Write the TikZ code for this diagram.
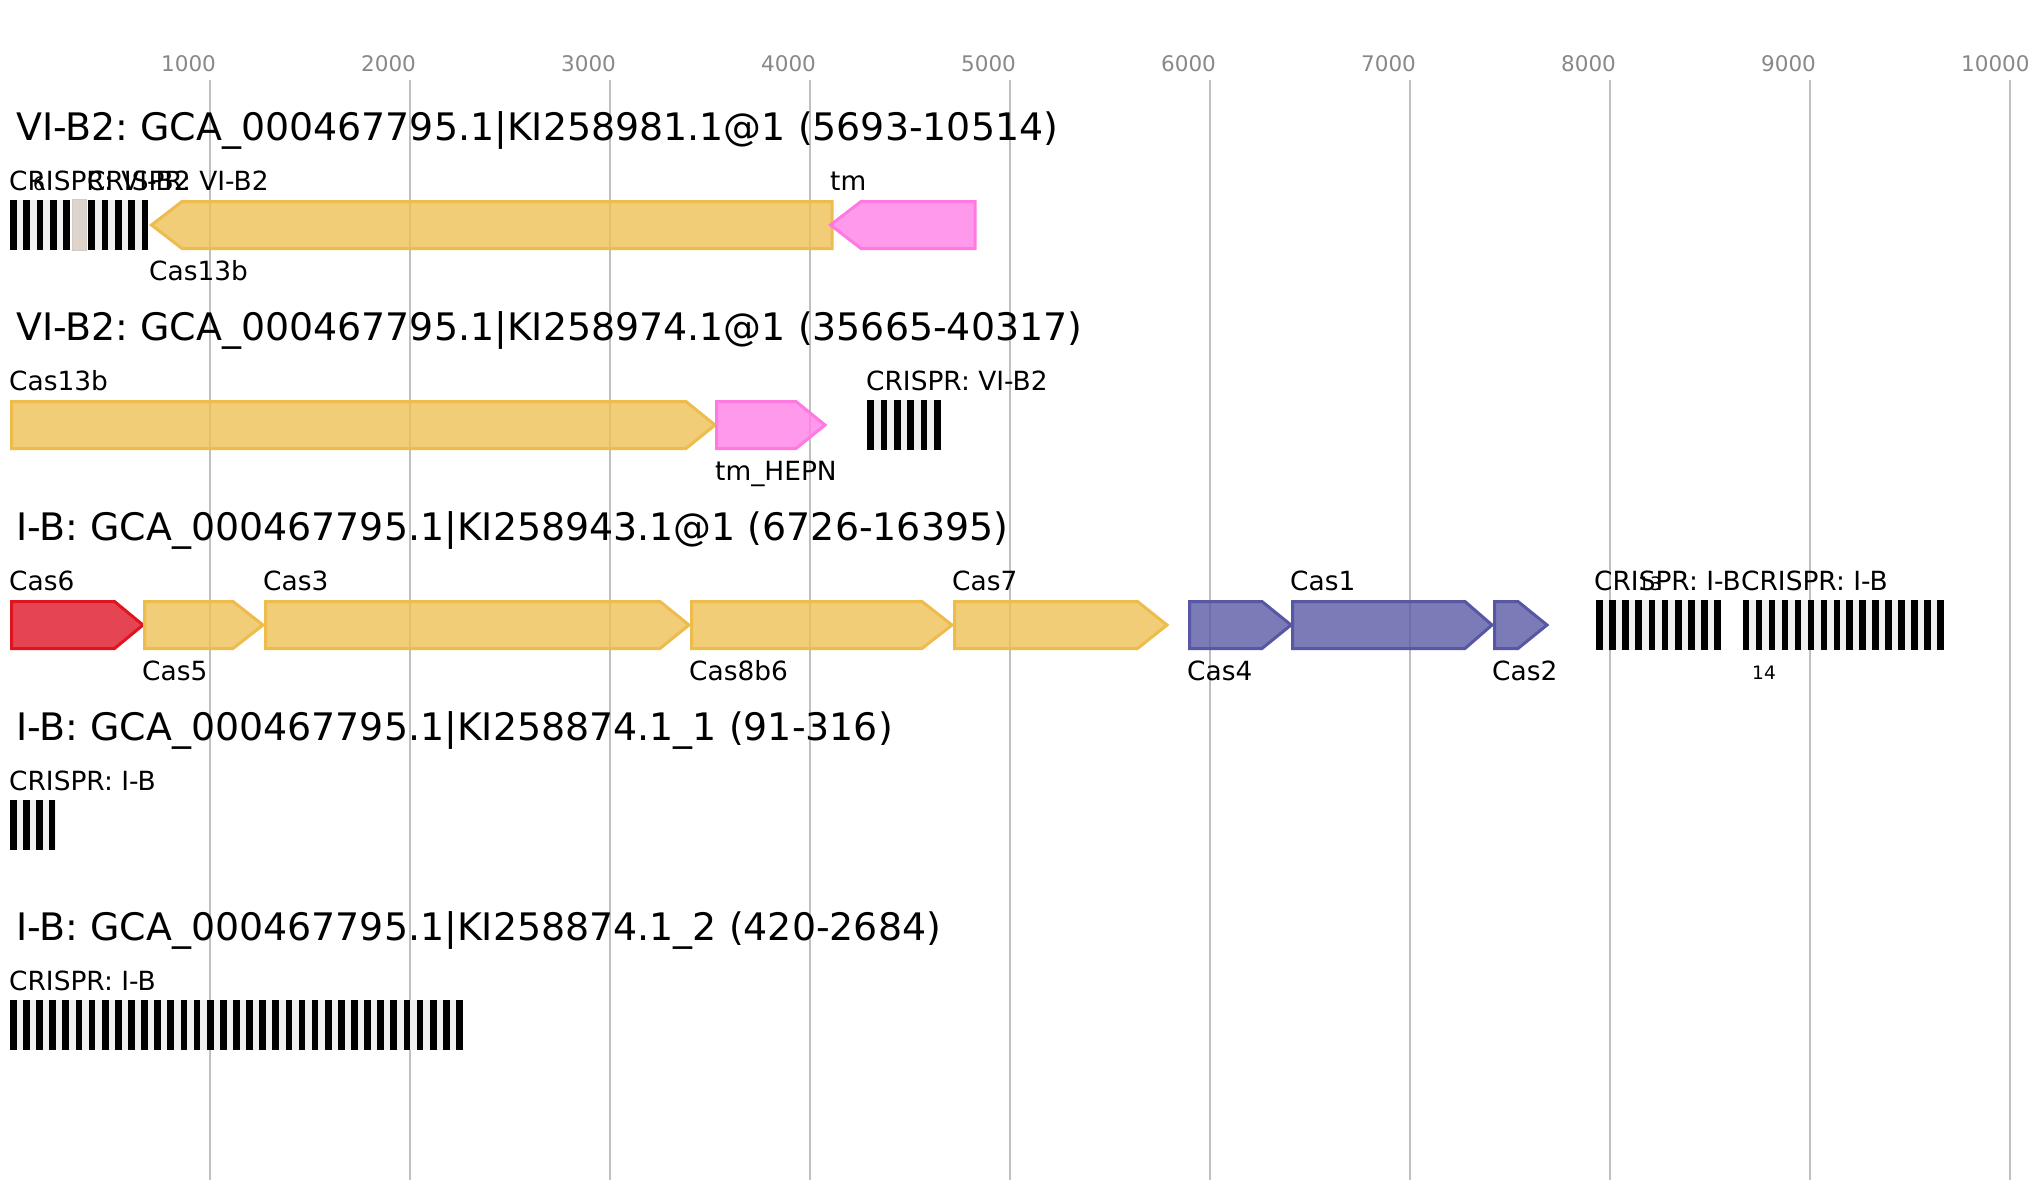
\documentclass[tikz,border=0pt]{standalone}
\usepackage{fontspec}
\setmainfont{DejaVu Sans}
\usepackage{tikz}
\frenchspacing

\definecolor{gridgray}{HTML}{C0C0C0}
\definecolor{tickgray}{HTML}{888888}
\definecolor{arraybggray}{HTML}{F0F0F0}
\definecolor{yellowline}{HTML}{EDBC4C}
\definecolor{yellowfill}{HTML}{EEC055}
\definecolor{pinkline}{HTML}{FF7AE0}
\definecolor{pinkfill}{HTML}{FF80E7}
\definecolor{redline}{HTML}{E0141E}
\definecolor{redfill}{HTML}{DF1727}
\definecolor{blueline}{HTML}{5757A5}
\definecolor{bluefill}{HTML}{5A5AA6}
\definecolor{tanline}{HTML}{D3CBC3}
\definecolor{tanfill}{HTML}{DCD4CD}

\begin{document}
\begin{tikzpicture}[x=1bp,y=-1bp,
  gridline/.style={gridgray,line width=2bp},
  ticklabel/.style={anchor=base west,inner sep=0pt,text=tickgray,font=\fontsize{21.5bp}{24bp}\selectfont},
  rowtitle/.style={anchor=base west,inner sep=0pt,font=\fontsize{37.9bp}{40bp}\selectfont},
  genelabel/.style={anchor=base west,inner sep=0pt,font=\fontsize{26.4bp}{28bp}\selectfont},
  countlabel/.style={anchor=base,inner sep=0pt,font=\fontsize{18.5bp}{20bp}\selectfont},
  gene/.style={line width=3bp,line join=miter,fill opacity=0.8},
  yellowgene/.style={gene,draw=yellowline,fill=yellowfill},
  pinkgene/.style={gene,draw=pinkline,fill=pinkfill},
  redgene/.style={gene,draw=redline,fill=redfill},
  bluegene/.style={gene,draw=blueline,fill=bluefill},
  arraybg/.style={fill=arraybggray},
  repeatbar/.style={fill=black},
  tanbox/.style={draw=tanline,fill=tanfill,line width=1.5bp}]

\useasboundingbox (0,0) rectangle (2034,1200);

\foreach \k in {1,...,10} {
  \draw[gridline] (10+200*\k,80) -- (10+200*\k,1180);
  \node[ticklabel] (tick\k) at (10+200*\k-49,71) {\k000};
}

\node[rowtitle] (title1) at (16,140) {VI-B2: GCA\_000467795.1|KI258981.1@1 (5693-10514)};
\node[rowtitle] (title2) at (16,340) {VI-B2: GCA\_000467795.1|KI258974.1@1 (35665-40317)};
\node[rowtitle] (title3) at (16,540) {I-B: GCA\_000467795.1|KI258943.1@1 (6726-16395)};
\node[rowtitle] (title4) at (16,740) {I-B: GCA\_000467795.1|KI258874.1\_1 (91-316)};
\node[rowtitle] (title5) at (16,940) {I-B: GCA\_000467795.1|KI258874.1\_2 (420-2684)};

\fill[arraybg] (10,200) rectangle (70,250);
\foreach \i in {0,...,4} \fill[repeatbar] (10+\i*13.33,200) rectangle +(6.7,50);
\filldraw[tanbox] (72.5,199.5) rectangle (86.5,250.5);
\fill[arraybg] (88.3,200) rectangle (148.3,250);
\foreach \i in {0,...,4} \fill[repeatbar] (88.3+\i*13.33,200) rectangle +(6.7,50);
\draw[yellowgene] (832,201.5) -- (182,201.5) -- (151.5,225) -- (182,248.5) -- (832,248.5) -- cycle;
\draw[pinkgene] (975,201.5) -- (861,201.5) -- (830.5,225) -- (861,248.5) -- (975,248.5) -- cycle;

\fill[arraybg] (867.3,400) rectangle (940.7,450);
\foreach \i in {0,...,5} \fill[repeatbar] (867.3+\i*13.34,400) rectangle +(6.7,50);
\draw[yellowgene] (11.5,401.5) -- (686,401.5) -- (715,425) -- (686,448.5) -- (11.5,448.5) -- cycle;
\draw[pinkgene] (716.5,401.5) -- (796,401.5) -- (825,425) -- (796,448.5) -- (716.5,448.5) -- cycle;

\draw[redgene] (11.5,601.5) -- (114.5,601.5) -- (143,625) -- (114.5,648.5) -- (11.5,648.5) -- cycle;
\draw[yellowgene] (144.5,601.5) -- (233,601.5) -- (263,625) -- (233,648.5) -- (144.5,648.5) -- cycle;
\draw[yellowgene] (265.5,601.5) -- (660,601.5) -- (689,625) -- (660,648.5) -- (265.5,648.5) -- cycle;
\draw[yellowgene] (691.5,601.5) -- (922,601.5) -- (952,625) -- (922,648.5) -- (691.5,648.5) -- cycle;
\draw[yellowgene] (954.5,601.5) -- (1137.5,601.5) -- (1167,625) -- (1137.5,648.5) -- (954.5,648.5) -- cycle;
\draw[bluegene] (1189.5,601.5) -- (1262,601.5) -- (1291,625) -- (1262,648.5) -- (1189.5,648.5) -- cycle;
\draw[bluegene] (1292.5,601.5) -- (1465,601.5) -- (1492,625) -- (1465,648.5) -- (1292.5,648.5) -- cycle;
\draw[bluegene] (1494.5,601.5) -- (1518,601.5) -- (1547,625) -- (1518,648.5) -- (1494.5,648.5) -- cycle;
\fill[arraybg] (1596,600) rectangle (1721,650);
\foreach \i in {0,...,9} \fill[repeatbar] (1596+\i*13.14,600) rectangle +(6.7,50);
\fill[arraybg] (1742.7,600) rectangle (1944,650);
\foreach \i in {0,...,15} \fill[repeatbar] (1742.7+\i*12.97,600) rectangle +(6.7,50);

\fill[arraybg] (10,800) rectangle (55.5,850);
\foreach \i in {0,...,3} \fill[repeatbar] (10+\i*12.93,800) rectangle +(6.7,50);

\fill[arraybg] (10,1000) rectangle (462.7,1050);
\foreach \i in {0,...,34} \fill[repeatbar] (10+\i*13.12,1000) rectangle +(6.7,50);

\node[genelabel] (crispr1a) at (9,190) {CRISPR: VI-B2};
\node[genelabel] (crispr1b) at (87,190) {CRISPR: VI-B2};
\node[countlabel] (count1a) at (39,190) {6};
\node[genelabel] (cas13b1) at (149,280) {Cas13b};
\node[genelabel] (tm1) at (830,190) {tm};

\node[genelabel] (cas13b2) at (9,390) {Cas13b};
\node[genelabel] (tmhepn2) at (715,480) {tm\_HEPN};
\node[genelabel] (crispr2) at (866,390) {CRISPR: VI-B2};

\node[genelabel] (cas6) at (9,590) {Cas6};
\node[genelabel] (cas5) at (142,680) {Cas5};
\node[genelabel] (cas3) at (263,590) {Cas3};
\node[genelabel] (cas8b6) at (689,680) {Cas8b6};
\node[genelabel] (cas7) at (952,590) {Cas7};
\node[genelabel] (cas4) at (1187,680) {Cas4};
\node[genelabel] (cas1) at (1290,590) {Cas1};
\node[genelabel] (cas2) at (1492,680) {Cas2};
\node[genelabel] (crispr3a) at (1594,590) {CRISPR: I-B};
\node[genelabel] (crispr3b) at (1741,590) {CRISPR: I-B};
\node[countlabel] (count3a) at (1650,590) {13};
\node[countlabel] (count3b) at (1764,679) {14};

\node[genelabel] (crispr4) at (9,790) {CRISPR: I-B};
\node[genelabel] (crispr5) at (9,990) {CRISPR: I-B};
\end{tikzpicture}
\end{document}
